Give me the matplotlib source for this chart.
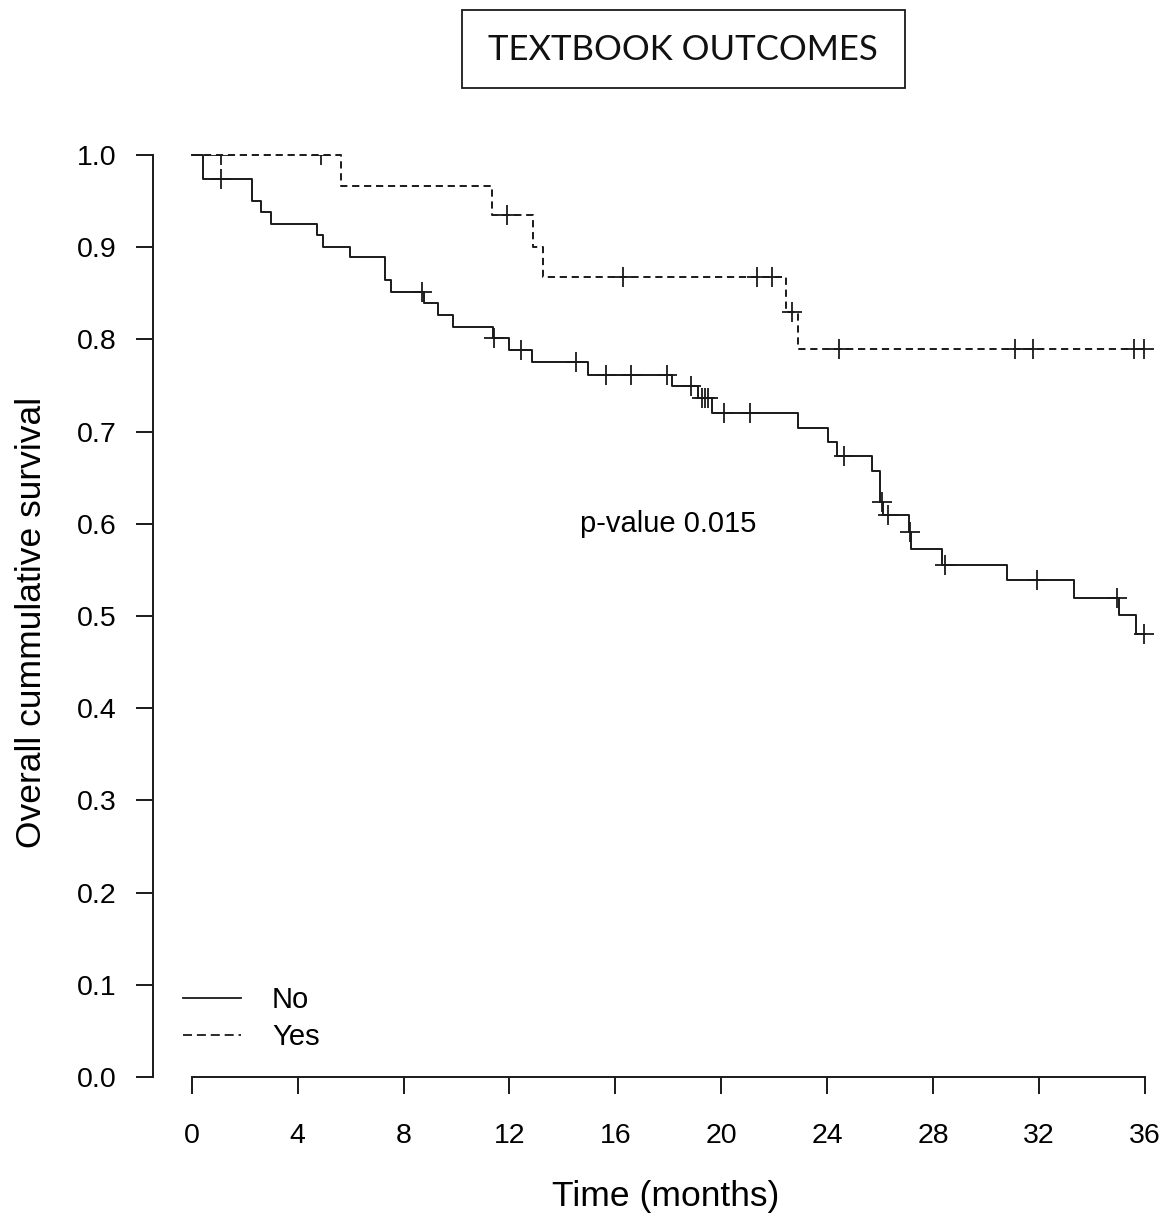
import numpy as np
import matplotlib
matplotlib.use("Agg")
import matplotlib.pyplot as plt
from matplotlib.lines import Line2D
from matplotlib.patches import Rectangle

# --- data ---
no_times = [0.44, 2.27, 2.61, 2.98, 4.72, 4.95, 5.98, 7.30, 7.52, 8.77, 9.31, 9.88,
            11.37, 11.99, 12.84, 14.98, 18.13, 19.13, 19.64, 22.89, 24.04, 24.38,
            25.68, 25.99, 26.10, 27.10, 27.16, 28.32, 30.78, 33.32, 35.03, 35.66]
no_surv = [0.974, 0.950, 0.938, 0.925, 0.913, 0.900, 0.889, 0.864, 0.851, 0.839, 0.826, 0.813,
           0.801, 0.788, 0.775, 0.761, 0.749, 0.736, 0.720, 0.704, 0.689, 0.673,
           0.657, 0.624, 0.610, 0.591, 0.573, 0.555, 0.539, 0.520, 0.501, 0.481]
no_cens = [1.11, 8.69, 11.40, 12.44, 14.50, 15.65, 16.58, 17.94, 18.84, 19.26, 19.38, 19.51,
           20.10, 21.08, 24.65, 26.06, 26.28, 27.13, 28.45, 31.93, 34.95, 35.97]

yes_times = [5.64, 11.33, 12.90, 13.28, 22.44, 22.91]
yes_surv = [0.966, 0.935, 0.900, 0.868, 0.830, 0.790]
yes_cens = [1.11, 4.87, 11.90, 16.30, 21.36, 21.90, 22.66, 24.46, 31.09, 31.78, 35.59, 35.96]

x_ticks = [0, 4, 8, 12, 16, 20, 24, 28, 32, 36]
y_ticks = [0.0, 0.1, 0.2, 0.3, 0.4, 0.5, 0.6, 0.7, 0.8, 0.9, 1.0]
t_end = 36

plt.rcParams['font.family'] = ['Liberation Sans', 'DejaVu Sans']
plt.rcParams['lines.scale_dashes'] = False

ink = '#1a1a1a'
fig = plt.figure(figsize=(11.68, 12.22), dpi=100)
ax = fig.add_axes([0.131, 0.11866, 0.8629, 0.7545])


def surv_at(times, surv, t):
    idx = np.searchsorted(times, t, side='right') - 1
    return 1.0 if idx < 0 else surv[idx]


def km(times, surv, cens, dashed, label):
    xs = np.r_[0, times, t_end]
    ys = np.r_[1.0, surv, surv[-1]]
    ls = (0, (5.2, 3.4)) if dashed else '-'
    ax.step(xs, ys, where='post', color=ink, lw=1.4, ls=ls, clip_on=False, label=label)
    cy = [surv_at(times, surv, c) for c in cens]
    ax.plot(cens, cy, ls='none', marker='+', ms=14, mew=1.3, color=ink)


km(no_times, no_surv, no_cens, False, 'No')
km(yes_times, yes_surv, yes_cens, True, 'Yes')

ax.set_xlim(-1.46, 36.6)
ax.set_ylim(0, 1.0)
for s in ['top', 'right']:
    ax.spines[s].set_visible(False)
ax.spines['bottom'].set_bounds(0, 36)
ax.spines['left'].set_bounds(0, 1.0)
for s in ['bottom', 'left']:
    ax.spines[s].set_linewidth(1.4)
    ax.spines[s].set_color(ink)

ax.set_xticks(x_ticks)
ax.set_yticks(y_ticks)
ax.set_yticklabels([f"{v:.1f}" for v in y_ticks])
ax.tick_params(axis='both', direction='out', length=12, width=1.4, color=ink, labelsize=20.5)
ax.tick_params(axis='x', pad=21)
ax.tick_params(axis='y', pad=14)

ax.set_xlabel('Time (months)', fontsize=25.5, va='center')
ax.xaxis.set_label_coords(0.509, -0.130)
ax.set_ylabel('Overall cummulative survival', fontsize=25.5, va='center')
ax.yaxis.set_label_coords(-0.1204, 0.4935)

ax.text(18, 0.6, 'p-value 0.015', ha='center', va='center', fontsize=21)

handles = [Line2D([], [], color=ink, lw=1.3, ls='-'),
           Line2D([], [], color=ink, lw=1.3, ls=(0, (6.5, 3.5)))]
ax.legend(handles, ['No', 'Yes'], loc='center left', bbox_to_anchor=(0.0298, 0.0634),
          frameon=False, fontsize=21, handlelength=2.0, handletextpad=1.05,
          labelspacing=0.3, borderpad=0, borderaxespad=0)

# title box
fig.patches.append(Rectangle((461.7 / 1168, 1 - 88.3 / 1222), (905 - 461.7) / 1168, 78.3 / 1222,
                             transform=fig.transFigure, fill=False, lw=1.3, edgecolor=ink))
fig.text(683.3 / 1168, 1 - 50 / 1222, 'TEXTBOOK OUTCOMES', ha='center', va='center',
         fontsize=25, family=['Lato', 'DejaVu Sans'], color='#111111')

fig.savefig('out.png', dpi=100)
